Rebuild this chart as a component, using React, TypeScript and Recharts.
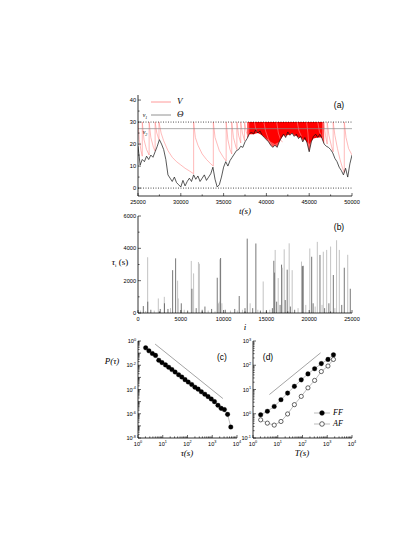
import React from 'react';
import { ComposedChart, Line, Area, Bar, XAxis, YAxis, ReferenceLine, Legend } from 'recharts';

// ---- panel (a): Θ sampled every 250 s from t = 25000 s
const THETA_T0 = 25000;
const THETA_DT = 250;
const THETA = [
  19, 10.5, 13, 12, 14.5, 13, 15, 14, 16.5, 19, 22, 20, 17.5, 13, 6, 4.5, 3, 5, 2.5, 1.5,
  0.5, 3.5, 1, 3, 4.5, 3, 6, 4, 5.5, 3, 4.5, 6, 3.5, 5, 6.5, 9.5, 4, 0.5, 1.5, 5,
  9.5, 12, 10, 12.5, 14, 15.5, 17, 17.5, 19, 18.5, 21, 22.5, 24.5, 25.5, 24.5, 26.5, 25, 26, 24, 23,
  22, 21, 19.5, 18.5, 19.5, 18.5, 21, 23, 24.5, 23, 25.5, 24, 25, 23.5, 24.5, 22.5, 23.5, 21, 23, 20.5,
  16.5, 21, 23.5, 24.5, 23, 24.5, 22.5, 20, 19, 18.5, 17.5, 16, 13.5, 12, 9.5, 8, 6, 9, 5, 11,
  15,
];
// V: reset to v1 then decays until it meets Θ (null = gap)
const V_TRACE: [number, number | null][] = [
  [25000, 30], [25150, 22], [25350, 17], [25500, 14.5],
  [25500, 30], [25700, 22], [26000, 17.5], [26300, 15],
  [26300, 30], [26500, 23], [26800, 18.5], [27000, 16.8],
  [27000, 30], [27200, 25], [27450, 22],
  [27450, 30], [27700, 25], [28000, 21.5], [28500, 17], [29000, 14], [29500, 12], [30000, 10.5],
  [30500, 9], [31000, 7.8], [31500, 6.5],
  [31500, 30], [31700, 23], [32000, 19.5], [32500, 15.5], [33000, 13], [33500, 11], [33800, 10],
  [33800, 30], [34000, 23], [34500, 17], [35000, 13.8], [35300, 12.3],
  [35300, 30], [35500, 22], [35750, 17.5], [35950, 15.5],
  [35950, 30], [36150, 23], [36450, 18.5], [36550, 17.5],
  [36550, 30], [36750, 24], [37000, 20.5],
  [37000, 30], [37200, 25], [37450, 21.5],
  [37450, 30], [37650, 25.5], [37850, 23.5],
  [37900, null],
  [38600, 30], [38750, 27], [38900, 25.5],
  [38950, null],
  [39700, 30], [39900, 26], [40200, 22.5], [40500, 20], [40700, 19],
  [40750, null],
  [41200, 30], [41400, 25], [41700, 21.5], [41900, 21],
  [41950, null],
  [43600, 30], [43800, 26], [44100, 23.5],
  [44150, null],
  [44700, 30], [44850, 25], [45000, 17],
  [45050, null],
  [46000, 30], [46200, 25.5], [46400, 24],
  [46450, null],
  [46700, 30], [46900, 24], [47100, 20],
  [47100, 30], [47300, 24], [47600, 19], [47800, 16.5],
  [47800, 30], [48000, 24], [48300, 18], [48600, 13], [48900, 9], [49100, 7],
  [49100, 30], [49300, 23], [49600, 18], [50000, 15],
];
const DENSE_FROM = 37750;
const DENSE_TO = 46750;
const RED_CORE_T = [38000, 38500, 39000, 39500, 40000, 40500, 41000, 41500, 42000, 42500, 43000, 43500, 44000, 44500, 45000, 45500, 46000, 46500];
const RED_CORE = [24.5, 24.5, 25, 24, 22.5, 21, 20, 21, 24, 24, 25, 23.5, 23, 22, 20, 22.5, 23, 23];
const V1 = 30;
const V2 = 27;

// ---- panel (b): [i, tau_i, dark?]
const SPIKES: [number, number, number][] = [
  [300, 150, 0], [622, 430, 1], [900, 120, 0], [1128, 3450, 0], [1140, 700, 1], [1500, 200, 1],
  [1900, 150, 0], [2373, 900, 0], [2600, 250, 1], [3073, 1000, 0], [3090, 600, 1], [3500, 250, 1],
  [3800, 300, 0], [4046, 2650, 1], [4396, 3380, 1], [4629, 2000, 0], [4700, 900, 0], [5057, 600, 1],
  [5400, 200, 0], [5800, 150, 1], [6224, 3220, 0], [6300, 1500, 1], [6496, 2450, 0], [6800, 300, 1],
  [7060, 3150, 0], [7170, 3050, 0], [7500, 200, 1], [7819, 400, 1], [8200, 150, 0], [8600, 250, 1],
  [9000, 100, 0], [9258, 2180, 1], [9400, 600, 0], [9500, 700, 0], [9569, 3320, 0], [9650, 3400, 1],
  [9800, 600, 0], [10200, 200, 1], [10800, 150, 0], [11300, 250, 1], [11600, 150, 0], [11826, 1050, 1],
  [12200, 200, 0], [12500, 300, 1], [12760, 4600, 1], [13100, 600, 0], [13400, 300, 1], [13770, 4300, 1],
  [14000, 200, 0], [14300, 150, 1], [14626, 1950, 0], [15000, 100, 1], [15400, 200, 0], [15700, 300, 1],
  [15870, 3230, 1], [15950, 2500, 1], [16026, 3900, 0], [16200, 700, 1], [16380, 2160, 0], [16600, 500, 1],
  [16770, 2990, 1], [16850, 2800, 0], [17080, 3940, 0], [17200, 800, 1], [17430, 2680, 1], [17660, 4310, 0],
  [17800, 400, 1], [18010, 2650, 0], [18300, 200, 1], [18700, 300, 0], [19100, 3180, 0], [19200, 2900, 1],
  [19300, 2920, 1], [19600, 500, 0], [20070, 3990, 0], [20290, 3480, 1], [20460, 600, 1], [20700, 400, 0],
  [20950, 4400, 0], [21260, 3590, 1], [21500, 500, 0], [21650, 3790, 0], [21800, 300, 1], [22040, 3900, 0],
  [22300, 600, 1], [22500, 4110, 0], [22820, 2350, 1], [23000, 300, 0], [23200, 4500, 0], [23520, 3900, 0],
  [23800, 500, 1], [24100, 2800, 1], [24500, 3600, 0], [24800, 1500, 1],
];

// ---- panel (c): P(tau)
const C_TAU = [2.04, 2.75, 3.8, 5.1, 6.9, 9.3, 12.9, 17.4, 23.4, 31.6, 43.7, 58.9, 79.4, 107, 148, 200, 269, 363, 501, 676, 912, 1230, 1700, 2290, 3090, 4170, 5620];
const C_P = [0.275, 0.155, 0.093, 0.065, 0.026, 0.0166, 0.0107, 0.0068, 0.0044, 0.00275, 0.00166, 0.00107, 6.5e-4, 4.1e-4, 2.6e-4, 1.55e-4, 1.07e-4, 6.5e-5, 4.1e-5, 2.6e-5, 1.66e-5, 1.0e-5, 5.0e-6, 2.8e-6, 2.2e-6, 8.9e-7, 8.0e-8];
const C_GUIDE_TAU = [4.9, 2690];
const C_GUIDE_P = [0.56, 1.8e-5];

// ---- panel (d): FF / AF
const D_T = [2.04, 3.8, 7.2, 13.5, 25, 47, 89, 166, 309, 575, 1070, 1780];
const D_FF = [0.91, 1.26, 2.0, 3.8, 7.1, 13.5, 25, 44, 72, 117, 174, 269];
const D_AF = [0.56, 0.41, 0.34, 0.48, 0.98, 2.37, 5.2, 11.7, 23.7, 55, 93, 174];
const D_GUIDE_T = [4.6, 537];
const D_GUIDE = [6.2, 324];

// ---------------------------------------------------------------
const SANS = '"Liberation Sans", Arial, sans-serif';
const SERIF = '"Liberation Serif", "Times New Roman", serif';

type Side = 'bottom' | 'top' | 'left' | 'right';

const isDecade = (v: number) => Math.abs(Math.log10(v) - Math.round(Math.log10(v))) < 1e-6;

const pow10Label = (every = 1) => (v: number) => {
  const e = Math.round(Math.log10(v));
  if (e % every !== 0) return null;
  return (
    <>
      <tspan>10</tspan>
      <tspan dy={-2.2} fontSize={3.8}>{e}</tspan>
    </>
  );
};

function makeTick(side: Side, isMajor: (v: number) => boolean, label?: (v: number) => React.ReactNode) {
  return (props: any) => {
    const { x, y, payload } = props;
    const v = payload.value as number;
    const major = isMajor(v);
    const len = major ? 3 : 1.6;
    const dx = side === 'left' ? len : side === 'right' ? -len : 0;
    const dy = side === 'bottom' ? -len : side === 'top' ? len : 0;
    const lab = major && label ? label(v) : null;
    return (
      <g>
        <line x1={x} y1={y} x2={x + dx} y2={y + dy} stroke="#000" strokeWidth={0.6} />
        {lab != null && side === 'bottom' && (
          <text x={x} y={y + 7.5} textAnchor="middle" fontFamily={SANS} fontSize={5.6} fill="#000">
            {lab}
          </text>
        )}
        {lab != null && side === 'left' && (
          <text x={x - 2} y={y + 2} textAnchor="end" fontFamily={SANS} fontSize={5.6} fill="#000">
            {lab}
          </text>
        )}
      </g>
    );
  };
}

// thin vertical spike for each bar of panel (b)
function Spike(props: any) {
  const { x, y, width, height, payload } = props;
  if (!height || height <= 0) return null;
  const cx = x + width / 2;
  return (
    <line x1={cx} y1={y} x2={cx} y2={y + height} stroke={payload?.dark ? '#555' : '#b4b4b4'} strokeWidth={0.8} />
  );
}

const range = (from: number, to: number, step: number) => {
  const out: number[] = [];
  for (let v = from; v <= to + 1e-9; v += step) out.push(v);
  return out;
};

const logTicks = (lo: number, hi: number) => {
  const out: number[] = [];
  for (let e = lo; e < hi; e++) for (let m = 1; m < 10; m++) out.push(m * Math.pow(10, e));
  out.push(Math.pow(10, hi));
  return out;
};

const axisBase = {
  tickSize: 0,
  tickMargin: 0,
  interval: 0 as const,
  tickLine: false,
  allowDataOverflow: true,
  axisLine: { stroke: '#000', strokeWidth: 0.8 },
};

const thetaTable = THETA.map((y, k) => ({ x: THETA_T0 + k * THETA_DT, y }));
const denseTable = thetaTable.filter((d) => d.x >= DENSE_FROM && d.x <= DENSE_TO).map((d) => ({ x: d.x, y: [d.y, V1] }));
const coreTable = RED_CORE_T.map((x, k) => ({ x, y: [RED_CORE[k], V1] }));
const vTable = V_TRACE.map(([x, y]) => ({ x, y }));
const spikeTable = SPIKES.map(([x, y, dark]) => ({ x, y, dark }));
const cTable = C_TAU.map((x, k) => ({ x, y: C_P[k] }));
const cGuide = C_GUIDE_TAU.map((x, k) => ({ x, y: C_GUIDE_P[k] }));
const dFF = D_T.map((x, k) => ({ x, y: D_FF[k] }));
const dAF = D_T.map((x, k) => ({ x, y: D_AF[k] }));
const dGuide = D_GUIDE_T.map((x, k) => ({ x, y: D_GUIDE[k] }));

const legendItems = (payload: any[] | undefined, names: string[]) =>
  names.map((n) => (payload ?? []).find((e: any) => e.value === n)).filter(Boolean);

function LegendA({ payload }: any) {
  return (
    <div style={{ display: 'flex', flexDirection: 'column' }}>
      {legendItems(payload, ['V', 'Θ']).map((e: any) => (
        <div key={e.value} style={{ display: 'flex', alignItems: 'center', height: 13 }}>
          <svg width={21} height={6}>
            <line x1={0} y1={3} x2={20} y2={3} stroke={e.value === 'V' ? '#ff8080' : '#777'} strokeWidth={0.8} />
          </svg>
          <span style={{ fontFamily: SERIF, fontStyle: 'italic', fontSize: 9, marginLeft: 5, lineHeight: '9px' }}>{e.value}</span>
        </div>
      ))}
    </div>
  );
}

function LegendD({ payload }: any) {
  return (
    <div style={{ display: 'flex', flexDirection: 'column' }}>
      {legendItems(payload, ['FF', 'AF']).map((e: any) => (
        <div key={e.value} style={{ display: 'flex', alignItems: 'center', height: 11.5 }}>
          <svg width={17} height={6}>
            <line x1={0} y1={3} x2={16} y2={3} stroke="#777" strokeWidth={0.5} />
            <circle cx={8} cy={3} r={2.3} fill={e.value === 'FF' ? '#000' : '#fff'} stroke="#000" strokeWidth={0.6} />
          </svg>
          <span style={{ fontFamily: SERIF, fontStyle: 'italic', fontSize: 8, marginLeft: 2, lineHeight: '8px' }}>{e.value}</span>
        </div>
      ))}
    </div>
  );
}

const txt = (left: number, top: number, content: React.ReactNode, style: React.CSSProperties = {}) => (
  <div
    style={{
      position: 'absolute',
      left,
      top,
      transform: 'translate(-50%, -50%)',
      whiteSpace: 'nowrap',
      lineHeight: 1,
      ...style,
    }}
  >
    {content}
  </div>
);

const titleStyle: React.CSSProperties = { fontFamily: SERIF, fontStyle: 'italic', fontSize: 9 };
const tagStyle: React.CSSProperties = { fontFamily: SANS, fontSize: 8.5 };

export default function App() {
  const aXTicks = range(25000, 50000, 2500);
  const aXMajor = (v: number) => v % 5000 === 0;
  const aYTicks = range(0, 40, 5);
  const aYMajor = (v: number) => v % 10 === 0;
  const bXTicks = range(0, 25000, 2500);
  const bXMajor = (v: number) => v % 5000 === 0;
  const bYTicks = range(0, 6000, 1000);
  const bYMajor = (v: number) => v % 2000 === 0;
  const cXTicks = logTicks(0, 4);
  const cYTicks = logTicks(-8, 0);
  const dXTicks = logTicks(0, 4);
  const dYTicks = logTicks(-1, 3);

  return (
    <div style={{ position: 'relative', width: 415, height: 544, background: '#fff' }}>
      <style>{'body{margin:0}'}</style>

      {/* (a) */}
      <div style={{ position: 'absolute', left: 78, top: 85 }}>
        <ComposedChart width={290} height={135} margin={{ top: 10, right: 16, bottom: 0, left: 0 }}>
          <XAxis xAxisId="b" dataKey="x" type="number" domain={[25000, 50000]} ticks={aXTicks} height={24}
            tick={makeTick('bottom', aXMajor, (v) => String(v))} {...axisBase} />
          <XAxis xAxisId="t" orientation="top" dataKey="x" type="number" domain={[25000, 50000]} ticks={aXTicks} height={0}
            tick={makeTick('top', aXMajor)} {...axisBase} />
          <YAxis yAxisId="l" type="number" domain={[-3.6, 42.3]} ticks={aYTicks} width={60}
            tick={makeTick('left', aYMajor, (v) => String(v))} {...axisBase} />
          <YAxis yAxisId="r" orientation="right" type="number" domain={[-3.6, 42.3]} ticks={aYTicks} width={0}
            tick={makeTick('right', aYMajor)} {...axisBase} />
          <Area xAxisId="b" yAxisId="l" data={denseTable} dataKey="y" type="linear" fill="#ff5050" fillOpacity={1}
            stroke="none" legendType="none" isAnimationActive={false} />
          <Area xAxisId="b" yAxisId="l" data={coreTable} dataKey="y" type="linear" fill="#ff0000" fillOpacity={1}
            stroke="none" legendType="none" isAnimationActive={false} />
          <Line xAxisId="b" yAxisId="l" data={vTable} dataKey="y" name="V" type="linear" stroke="#ff8c8c" strokeWidth={0.6}
            dot={false} activeDot={false} isAnimationActive={false} />
          <Line xAxisId="b" yAxisId="l" data={thetaTable} dataKey="y" name="Θ" type="linear" stroke="#111" strokeWidth={0.7}
            dot={false} activeDot={false} isAnimationActive={false} />
          <ReferenceLine xAxisId="b" yAxisId="l" y={V1} stroke="#000" strokeWidth={0.7} strokeDasharray="1 1.5" />
          <ReferenceLine xAxisId="b" yAxisId="l" y={V2} stroke="#888" strokeWidth={0.7} />
          <ReferenceLine xAxisId="b" yAxisId="l" y={0} stroke="#000" strokeWidth={0.7} strokeDasharray="1 1.5" />
          <Legend layout="vertical" align="center" verticalAlign="middle" content={<LegendA />}
            wrapperStyle={{ left: 73, top: 10, width: 'auto' }} />
        </ComposedChart>
      </div>

      {/* (b) */}
      <div style={{ position: 'absolute', left: 78, top: 206 }}>
        <ComposedChart width={290} height={131} data={spikeTable} margin={{ top: 10, right: 16, bottom: 0, left: 0 }}>
          <XAxis xAxisId="b" dataKey="x" type="number" domain={[0, 25000]} ticks={bXTicks} height={24}
            tick={makeTick('bottom', bXMajor, (v) => String(v))} {...axisBase} />
          <XAxis xAxisId="t" orientation="top" dataKey="x" type="number" domain={[0, 25000]} ticks={bXTicks} height={0}
            tick={makeTick('top', bXMajor)} {...axisBase} />
          <YAxis yAxisId="l" type="number" domain={[0, 6000]} ticks={bYTicks} width={60}
            tick={makeTick('left', bYMajor, (v) => String(v))} {...axisBase} />
          <YAxis yAxisId="r" orientation="right" type="number" domain={[0, 6000]} ticks={bYTicks} width={0}
            tick={makeTick('right', bYMajor)} {...axisBase} />
          <Bar xAxisId="b" yAxisId="l" dataKey="y" barSize={1} shape={<Spike />} isAnimationActive={false} />
        </ComposedChart>
      </div>

      {/* (c) */}
      <div style={{ position: 'absolute', left: 78, top: 331 }}>
        <ComposedChart width={169} height={131} margin={{ top: 10, right: 10, bottom: 0, left: 0 }}>
          <XAxis xAxisId="b" dataKey="x" type="number" scale="log" domain={[1, 10000]} ticks={cXTicks} height={24}
            tick={makeTick('bottom', isDecade, pow10Label())} {...axisBase} />
          <XAxis xAxisId="t" orientation="top" dataKey="x" type="number" scale="log" domain={[1, 10000]} ticks={cXTicks} height={0}
            tick={makeTick('top', isDecade)} {...axisBase} />
          <YAxis yAxisId="l" dataKey="y" type="number" scale="log" domain={[1e-8, 1]} ticks={cYTicks} width={60}
            tick={makeTick('left', isDecade, pow10Label(2))} {...axisBase} />
          <YAxis yAxisId="r" orientation="right" dataKey="y" type="number" scale="log" domain={[1e-8, 1]} ticks={cYTicks} width={0}
            tick={makeTick('right', isDecade)} {...axisBase} />
          <Line xAxisId="b" yAxisId="l" data={cGuide} dataKey="y" stroke="#666" strokeWidth={0.6} dot={false}
            activeDot={false} legendType="none" isAnimationActive={false} />
          <Line xAxisId="b" yAxisId="l" data={cTable} dataKey="y" stroke="#777" strokeWidth={0.5}
            dot={{ r: 2.3, fill: '#000', stroke: '#000', strokeWidth: 0.3 }} activeDot={false} isAnimationActive={false} />
        </ComposedChart>
      </div>

      {/* (d) */}
      <div style={{ position: 'absolute', left: 213, top: 331 }}>
        <ComposedChart width={155} height={131} margin={{ top: 10, right: 16, bottom: 0, left: 0 }}>
          <XAxis xAxisId="b" dataKey="x" type="number" scale="log" domain={[1, 10000]} ticks={dXTicks} height={24}
            tick={makeTick('bottom', isDecade, pow10Label())} {...axisBase} />
          <XAxis xAxisId="t" orientation="top" dataKey="x" type="number" scale="log" domain={[1, 10000]} ticks={dXTicks} height={0}
            tick={makeTick('top', isDecade)} {...axisBase} />
          <YAxis yAxisId="l" dataKey="y" type="number" scale="log" domain={[0.1, 1000]} ticks={dYTicks} width={40}
            tick={makeTick('left', isDecade, pow10Label())} {...axisBase} />
          <YAxis yAxisId="r" orientation="right" dataKey="y" type="number" scale="log" domain={[0.1, 1000]} ticks={dYTicks} width={0}
            tick={makeTick('right', isDecade)} {...axisBase} />
          <Line xAxisId="b" yAxisId="l" data={dGuide} dataKey="y" stroke="#666" strokeWidth={0.6} dot={false}
            activeDot={false} legendType="none" isAnimationActive={false} />
          <Line xAxisId="b" yAxisId="l" data={dFF} dataKey="y" name="FF" stroke="#777" strokeWidth={0.5}
            dot={{ r: 2.3, fill: '#000', stroke: '#000', strokeWidth: 0.3 }} activeDot={false} isAnimationActive={false} />
          <Line xAxisId="b" yAxisId="l" data={dAF} dataKey="y" name="AF" stroke="#777" strokeWidth={0.5}
            dot={{ r: 2.1, fill: '#fff', stroke: '#000', strokeWidth: 0.6 }} activeDot={false} isAnimationActive={false} />
          <Legend layout="vertical" align="center" verticalAlign="middle" content={<LegendD />}
            wrapperStyle={{ left: 101, top: 76, width: 'auto' }} />
        </ComposedChart>
      </div>

      {/* axis titles and panel tags */}
      {txt(245, 211, <>t(s)</>, titleStyle)}
      {txt(245, 327, <>i</>, titleStyle)}
      {txt(187, 453, <>τ(s)</>, titleStyle)}
      {txt(302, 453, <>T(s)</>, titleStyle)}
      {txt(120, 263, <><i>τ</i><sub style={{ fontSize: 5 }}>i</sub><span style={{ fontStyle: 'normal' }}> (s)</span></>, { ...titleStyle, fontStyle: 'normal' })}
      {txt(112, 361, <>P(τ)</>, titleStyle)}
      {txt(145, 116, <>v<sub style={{ fontSize: 4 }}>1</sub></>, { ...titleStyle, fontSize: 6 })}
      {txt(145, 133, <>v<sub style={{ fontSize: 4 }}>2</sub></>, { ...titleStyle, fontSize: 6 })}
      {txt(339, 105, '(a)', tagStyle)}
      {txt(339, 227, '(b)', tagStyle)}
      {txt(222, 357, '(c)', tagStyle)}
      {txt(268, 357, '(d)', tagStyle)}
    </div>
  );
}
